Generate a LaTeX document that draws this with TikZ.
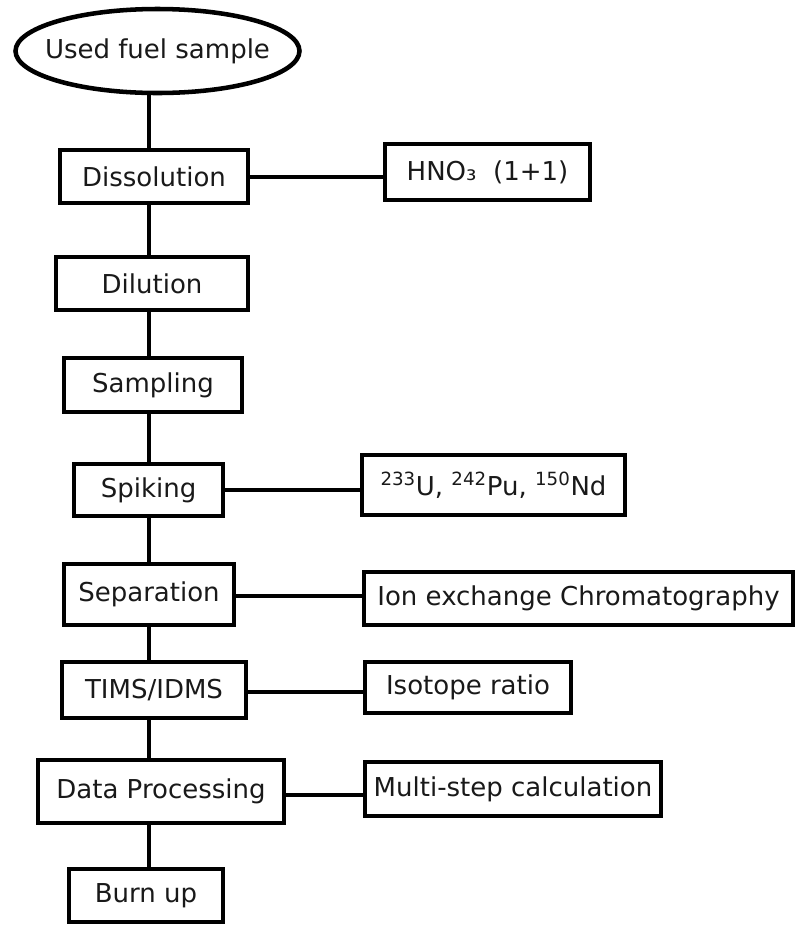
\documentclass[tikz,border=0pt]{standalone}
\usepackage{fontspec}
\setmainfont{DejaVu Sans}
\usetikzlibrary{shapes.geometric}
\begin{document}
\begin{tikzpicture}[x=0.75pt,y=-0.75pt,
  every node/.style={font=\fontsize{19.5}{22}\selectfont, text=black!90},
  box/.style={draw=black, line width=3.4pt, rectangle, inner sep=0pt, fill=white},
  oval/.style={draw=black, line width=3.4pt, ellipse, inner sep=0pt, fill=white},
  link/.style={draw=black, line width=3.4pt}]
\useasboundingbox (0,0) rectangle (797,926);
\coordinate (t) at (149,0);
% main column
\node[oval, minimum width={284*0.75pt}, minimum height={84*0.75pt}] (used) at (157.5,51) {\makebox[0pt]{Used fuel sample}};
\node[box, minimum width={188*0.75pt}, minimum height={53*0.75pt}] (diss) at (154,176.5) {Dissolution};
\node[box, minimum width={192*0.75pt}, minimum height={53*0.75pt}] (dil) at (152,283.5) {Dilution};
\node[box, minimum width={178*0.75pt}, minimum height={54*0.75pt}] (samp) at (153,385) {Sampling};
\node[box, minimum width={149*0.75pt}, minimum height={52*0.75pt}] (spik) at (148.5,490) {Spiking};
\node[box, minimum width={170*0.75pt}, minimum height={61*0.75pt}] (sep) at (149,594.5) {Separation};
\node[box, minimum width={184*0.75pt}, minimum height={56*0.75pt}] (tims) at (154,690) {TIMS/IDMS};
\node[box, minimum width={246*0.75pt}, minimum height={63*0.75pt}] (data) at (161,791.5) {Data Processing};
\node[box, minimum width={154*0.75pt}, minimum height={53*0.75pt}] (burn) at (146,895.5) {Burn up};
% side boxes
\node[box, minimum width={205*0.75pt}, minimum height={56*0.75pt}] (hno) at (487.5,172) {HNO₃\ \ (1+1)};
\node[box, minimum width={263*0.75pt}, minimum height={60*0.75pt}] (iso) at (493.5,485) {\textsuperscript{233}U, \textsuperscript{242}Pu, \textsuperscript{150}Nd};
\node[box, minimum width={429*0.75pt}, minimum height={53*0.75pt}] (ion) at (578.5,598.5) {Ion exchange Chromatography};
\node[box, minimum width={206*0.75pt}, minimum height={51*0.75pt}] (ratio) at (468,687.5) {Isotope ratio};
\node[box, minimum width={296*0.75pt}, minimum height={54*0.75pt}] (multi) at (513,789) {Multi-step calculation};
% vertical connectors
\draw[link] (used.south -| t) -- (diss.north -| t);
\draw[link] (diss.south -| t) -- (dil.north -| t);
\draw[link] (dil.south -| t) -- (samp.north -| t);
\draw[link] (samp.south -| t) -- (spik.north -| t);
\draw[link] (spik.south -| t) -- (sep.north -| t);
\draw[link] (sep.south -| t) -- (tims.north -| t);
\draw[link] (tims.south -| t) -- (data.north -| t);
\draw[link] (data.south -| t) -- (burn.north -| t);
% horizontal connectors
\draw[link] (diss.east |- 0,177) -- (hno.west |- 0,177);
\draw[link] (spik.east |- 0,490) -- (iso.west |- 0,490);
\draw[link] (sep.east |- 0,596) -- (ion.west |- 0,596);
\draw[link] (tims.east |- 0,692) -- (ratio.west |- 0,692);
\draw[link] (data.east |- 0,795) -- (multi.west |- 0,795);
\end{tikzpicture}
\end{document}
